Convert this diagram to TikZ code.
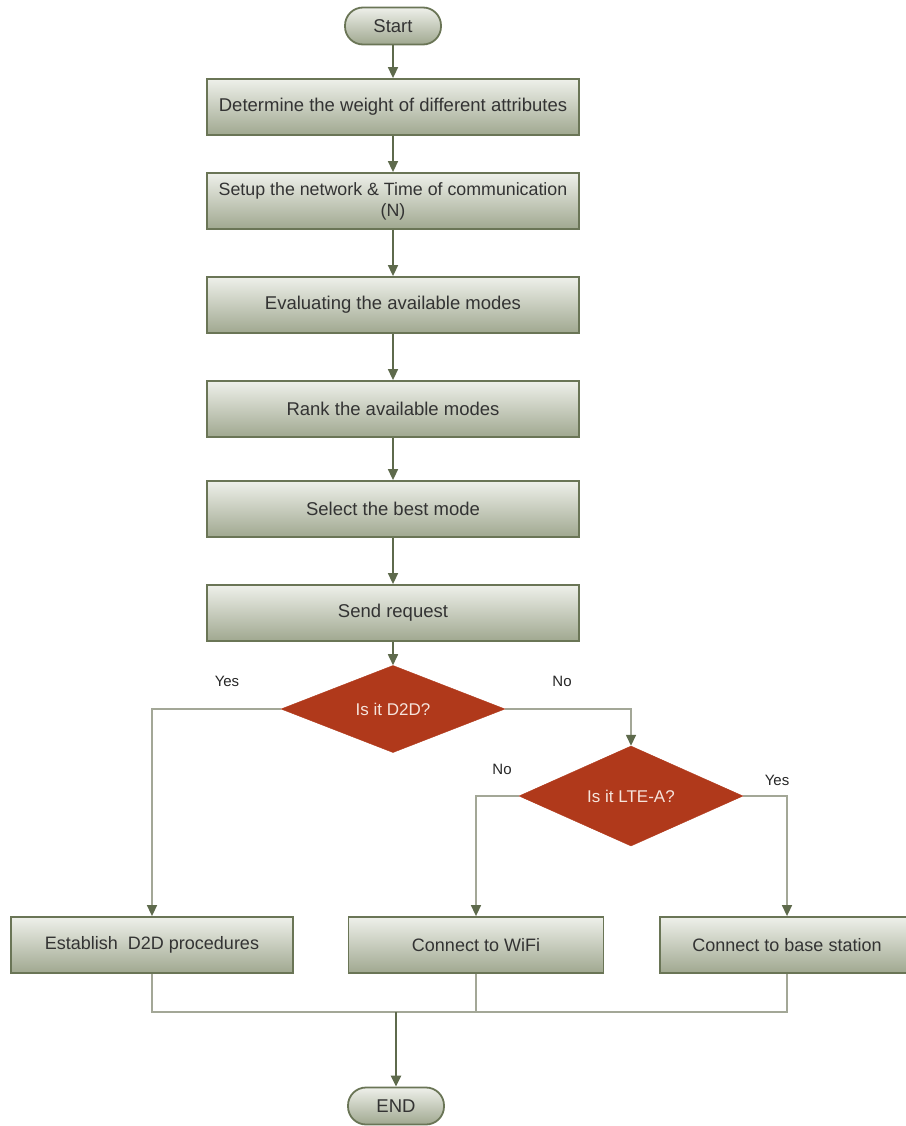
\documentclass[tikz,border=0pt]{standalone}
\usepackage{fontspec}
\setmainfont{Liberation Sans}
\usetikzlibrary{shapes.geometric,arrows.meta,positioning}

\definecolor{boxtop}{HTML}{EEF0EA}
\definecolor{boxbot}{HTML}{A0A890}
\definecolor{boxline}{HTML}{6A7556}
\definecolor{flowline}{HTML}{5E6A4C}
\definecolor{joinline}{HTML}{A3A797}
\definecolor{testfill}{HTML}{B0391B}
\definecolor{testtext}{HTML}{F6E4DC}

\begin{document}
\begin{tikzpicture}[x=1pt, y=-1pt, node distance=104pt,
		box node/.style={rectangle,draw=boxline,line width=1.8pt,top color=boxtop,bottom color=boxbot,
			minimum width=372pt,minimum height=56pt,align=center,text=black!80,font=\fontsize{18.5}{21}\selectfont},
		end node/.style={box node,rounded corners=18pt,minimum width=96pt,minimum height=37pt},
		test node/.style={diamond,fill=testfill,draw=testfill,inner sep=0pt,minimum width=224pt,
			minimum height=86pt,text=testtext,font=\fontsize{17}{21}\selectfont},
		label node/.style={text=black!85,font=\fontsize{15}{17}\selectfont},
		flow/.style={draw=flowline,line width=1.6pt,-{Triangle[length=11pt,width=10pt]}},
		branch/.style={draw=joinline,line width=1.5pt,-{Triangle[length=11pt,width=10pt,color=flowline]}},
		merge line/.style={draw=joinline,line width=1.5pt}]
	
	\useasboundingbox (0,0) rectangle (905,1126);
	
	\node[end node] (start) at (393,26) {Start};
	\node[box node] (weight) [below of=start, node distance=81pt] {Determine the weight of different attributes};
	\node[box node, font=\fontsize{17.8}{21}\selectfont] (setup) [below of=weight, node distance=94pt] {Setup the network \& Time of communication\\(N)};
	\node[box node] (eval) [below of=setup] {Evaluating the available modes};
	\node[box node] (rank) [below of=eval] {Rank the available modes};
	\node[box node] (select) [below of=rank, node distance=100pt] {Select the best mode};
	\node[box node] (send) [below of=select] {Send request};
	\node[test node] (d2d) [below of=send, node distance=96pt] {Is it D2D?};
	\node[test node] (lte) at (631,796) {Is it LTE-A?};
	
	\node[box node, minimum width=282pt, font=\fontsize{18}{21}\selectfont] (proc) at (152,945) {Establish \ D2D procedures};
	\node[box node, minimum width=255pt, font=\fontsize{18}{21}\selectfont] (wifi) at (476,945) {Connect to WiFi};
	\node[box node, minimum width=254pt, font=\fontsize{18}{21}\selectfont] (base) at (787,945) {Connect to base station};
	\node[end node] (stop) at (396,1106) {END};
	
	% branch labels
	\node[label node] (yes1) at (227,681) {Yes};
	\node[label node] (no1) at (562,681) {No};
	\node[label node] (no2) at (502,769) {No};
	\node[label node] (yes2) at (777,780) {Yes};
	
	\coordinate (merge) at (396,1012);
	
	\path[flow] (start) -- (weight);
	\path[flow] (weight) -- (setup);
	\path[flow] (setup) -- (eval);
	\path[flow] (eval) -- (rank);
	\path[flow] (rank) -- (select);
	\path[flow] (select) -- (send);
	\path[flow] (send) -- (d2d);
	
	\path[branch] (d2d.west) -| (proc.north);
	\path[branch] (d2d.east) -| (lte.north);
	\path[branch] (lte.west) -| (wifi.north);
	\path[branch] (lte.east) -| (base.north);
	
	\path[merge line] (proc.south) |- (merge);
	\path[merge line] (base.south) |- (merge);
	\path[merge line] (wifi.south) |- (merge);
	\path[flow, line width=2.2pt] (merge) -- (stop);
\end{tikzpicture}
\end{document}
